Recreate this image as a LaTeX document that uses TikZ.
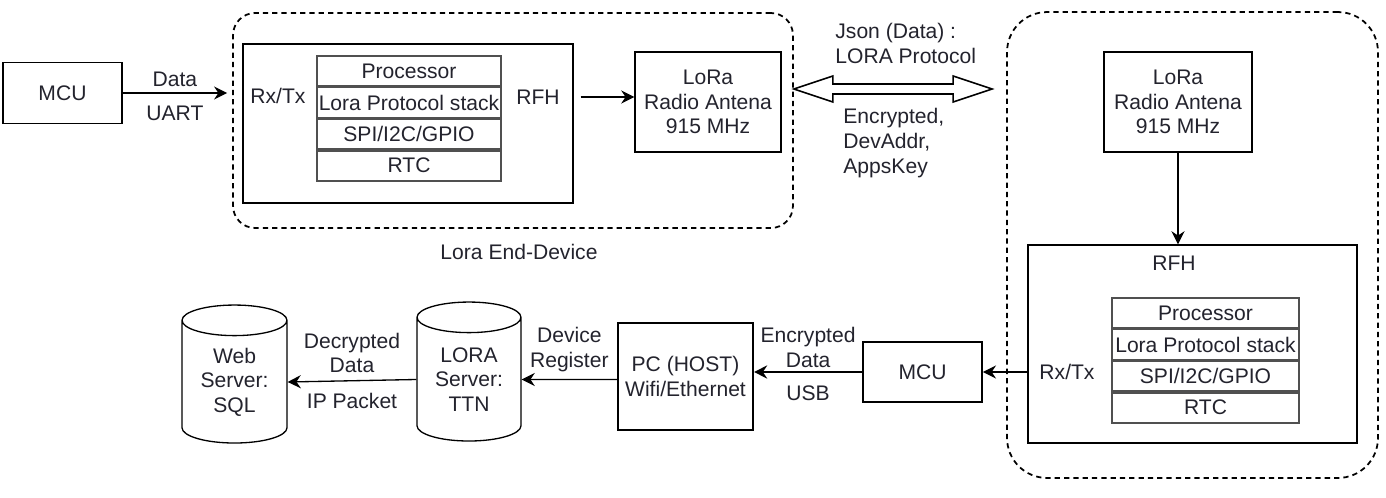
\documentclass[tikz,border=0pt]{standalone}
\usepackage{fontspec}
\setmainfont{Liberation Sans}
\definecolor{RowGray}{RGB}{80,80,80}
\definecolor{TextDark}{RGB}{35,35,45}
\usetikzlibrary{arrows.meta,positioning,calc,shapes.geometric}

\begin{document}
\begin{tikzpicture}[x=0.02cm,y=-0.02cm,line width=0.75pt,
  txt/.style={font=\fontsize{12}{14}\selectfont,text=TextDark,align=center,inner sep=1pt},
  blk/.style={txt,draw},
  row/.style={txt,draw=RowGray,line width=0.9pt,minimum width=3.68cm,
              minimum height=0.6cm,inner sep=0pt},
  grp/.style={draw,dash pattern=on 3pt off 2.3pt,line width=1pt},
  db/.style={txt,draw,cylinder,shape border rotate=90,aspect=0.45,inner sep=0pt},
  arr/.style={-{Stealth[length=7.5pt,width=7.5pt,inset=2.5pt]}}]
  \useasboundingbox (0,0) rectangle (1386,497);

  % end device side
  \node[blk,minimum width=2.38cm,minimum height=1.22cm] (mcuA) at (62.5,93) {MCU};
  \node[grp,rounded corners=0.44cm,minimum width=11.2cm,minimum height=4.3cm]
       (edev) at (513,120.5) {};
  \node[draw,minimum width=6.6cm,minimum height=3.18cm] (rfbA) at (408,123.5) {};
  \node[row] (procA) at (409,71) {Processor};
  \node[row,below=0pt of procA] (stackA) {Lora Protocol stack};
  \node[row,below=0pt of stackA] (spiA) {SPI/I2C/GPIO};
  \node[row,below=0pt of spiA] (rtcA) {RTC};
  \node[txt] (rxA) at (278,96) {Rx/Tx};
  \node[txt] (rfhA) at (538,97) {RFH};
  \node[blk,minimum width=2.92cm,minimum height=2cm] (loraA) at (708,102)
       {LoRa\\Radio Antena\\915 MHz};
  \node[txt] (edevlbl) at (519,252) {Lora End-Device};

  % gateway side
  \node[grp,rounded corners=0.8cm,minimum width=7.42cm,minimum height=9.32cm]
       (gw) at (1192.5,245) {};
  \node[blk,minimum width=2.96cm,minimum height=2cm] (loraB) at (1178,102)
       {LoRa\\Radio Antena\\915 MHz};
  \node[draw,minimum width=6.58cm,minimum height=3.96cm] (rfbB) at (1192.5,344) {};
  \node[txt] (rfhB) at (1174,263) {RFH};
  \node[row,minimum width=3.74cm] (procB) at (1205.5,313) {Processor};
  \node[row,minimum width=3.74cm,below=0pt of procB] (stackB) {Lora Protocol stack};
  \node[row,minimum width=3.74cm,below=0pt of stackB] (spiB) {SPI/I2C/GPIO};
  \node[row,minimum width=3.74cm,below=0pt of spiB] (rtcB) {RTC};
  \node[txt] (rxB) at (1067,372) {Rx/Tx};

  % radio link (hollow double arrow)
  \coordinate (lnk) at (893,89);
  \coordinate (lnkL) at (edev.east |- lnk);
  \coordinate (lnkR) at ($(gw.west |- lnk)+(-14,0)$);
  \draw[line width=0.9pt] (lnkL) -- ++(39,-13) -- ++(0,8) -- ($(lnkR)+(-39,-5)$)
       -- ++(0,-8) -- (lnkR) -- ++(-39,13) -- ++(0,-8) -- ($(lnkL)+(39,5)$)
       -- ++(0,8) -- cycle;
  \node[txt,anchor=west,align=left] (json) at (833,43.5) {Json (Data) :\\LORA Protocol};
  \node[txt,anchor=west,align=left] (keys) at (841,143) {Encrypted,\\DevAddr,\\AppsKey};

  % host and servers
  \node[blk,line width=1pt,minimum width=2.38cm,minimum height=1.2cm] (mcuB) at (922.5,372) {MCU};
  \node[blk,line width=1.2pt,minimum width=2.7cm,minimum height=2.14cm] (pc) at (685.5,376.5)
       {PC (HOST)\\Wifi/Ethernet};
  \node[db,minimum width=2.08cm,minimum height=2.78cm] (ttn) at (469,379.5)
       {LORA\\Server:\\TTN};
  \node[db,minimum width=2.1cm,minimum height=2.76cm] (web) at (234.5,382)
       {Web\\Server:\\SQL};

  \draw[arr] (mcuA.east) -- ($(mcuA.east -| edev.west)+(-5,0)$)
       node[txt,midway,above=2pt]{Data} node[txt,midway,below=6pt]{UART};
  \draw[arr] ($(rfhA -| rfbA.east)+(7,0)$) -- (rfhA -| loraA.west);
  \draw[arr] (loraB.south) -- (loraB.south |- rfbB.north);
  \draw[arr] (mcuB -| rfbB.west) -- (mcuB.east);
  \draw[arr,line width=1.2pt] (mcuB.west) -- (mcuB.west -| pc.east)
       node[txt,midway,above=1pt]{Encrypted\\Data} node[txt,midway,below=6pt]{USB};
  \draw[arr] (pc.west |- ttn) -- (ttn.east)
       node[txt,midway,above=3pt]{Device\\Register};
  \draw[arr] (ttn.west) -- (web.east)
       node[txt,midway,above=3pt]{Decrypted\\Data} node[txt,midway,below=6pt]{IP Packet};
\end{tikzpicture}
\end{document}
